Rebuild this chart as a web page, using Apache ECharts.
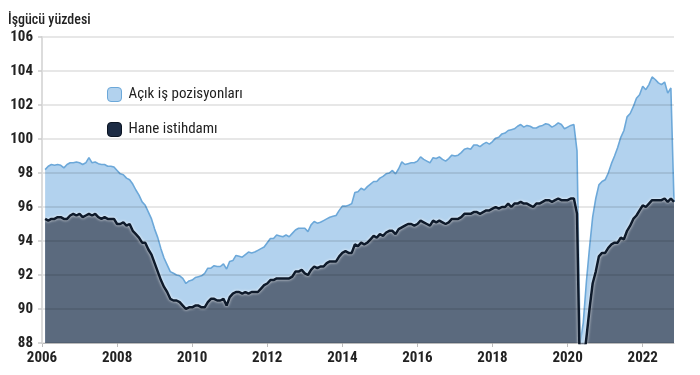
<!DOCTYPE html>
<html><head><meta charset="utf-8">
<script src="https://cdn.jsdelivr.net/npm/echarts@6/dist/echarts.min.js"></script>
<style>html,body{margin:0;padding:0;background:#fff}#c{width:700px;height:375px}</style>
</head><body><div id="c"></div>
<script>
const yAxisTitle = 'İşgücü yüzdesi';
const seriesNames = ['Açık iş pozisyonları', 'Hane istihdamı'];
const startYear = 2006;
const yearTicks = [2006, 2008, 2010, 2012, 2014, 2016, 2018, 2020, 2022];
const yMin = 88, yMax = 106, yStep = 2;

// Monthly, Jan 2006 .. Oct 2022 (plotted at month end)
const openingsPlusEmployment = [
  98.2, 98.4, 98.5, 98.45, 98.5, 98.45, 98.3, 98.5, 98.6, 98.6, 98.65, 98.6,
  98.5, 98.6, 98.9, 98.6, 98.65, 98.55, 98.5, 98.5, 98.4, 98.4, 98.35, 98.15,
  97.95, 97.9, 97.7, 97.6, 97.35, 97.0, 96.7, 96.3, 96.1, 95.7, 95.3, 94.7,
  94.2, 93.55, 93.0, 92.6, 92.2, 92.1, 92.0, 91.95, 91.8, 91.5, 91.65, 91.7,
  91.85, 91.9, 91.95, 92.1, 92.4, 92.4, 92.55, 92.5, 92.5, 92.65, 92.35, 92.8,
  92.85, 93.15, 93.1, 93.05, 93.2, 93.35, 93.3, 93.35, 93.45, 93.55, 93.65, 93.9,
  94.15, 94.15, 94.35, 94.3, 94.25, 94.35, 94.25, 94.45, 94.65, 94.75, 94.75, 94.75,
  94.55, 94.95, 95.15, 95.05, 95.1, 95.2, 95.3, 95.4, 95.45, 95.5, 95.8, 96.05,
  96.05, 96.1, 96.2, 96.85, 96.9, 97.1, 97.0, 97.2, 97.35, 97.5, 97.5, 97.7,
  97.8, 97.95, 98.0, 98.15, 97.95, 98.25, 98.65, 98.5, 98.55, 98.6, 98.6, 98.7,
  98.95, 98.8, 98.7, 98.6, 98.9, 98.85, 98.95, 98.8, 98.7, 98.85, 99.05, 99.0,
  99.05, 99.2, 99.4, 99.45, 99.4, 99.65, 99.65, 99.55, 99.7, 99.8, 99.7, 99.85,
  100.05, 100.1, 100.3, 100.35, 100.5, 100.55, 100.6, 100.75, 100.85, 100.7, 100.8, 100.75,
  100.65, 100.65, 100.75, 100.8, 100.9, 100.85, 100.7, 100.8, 100.95, 100.85, 100.6, 100.7,
  100.8, 100.85, 99.3, 88.0, 89.2, 91.6, 93.6, 95.4, 96.5, 97.3, 97.5, 97.6,
  98.0, 98.55, 99.0, 99.5, 100.1, 100.5, 101.3, 101.5, 101.9, 102.4, 102.6, 103.1,
  102.9, 103.2, 103.65, 103.5, 103.3, 103.2, 103.35, 102.7, 103.0, 96.3
];
const householdEmployment = [
  95.3, 95.2, 95.3, 95.3, 95.4, 95.4, 95.3, 95.3, 95.5, 95.6, 95.5, 95.6,
  95.4, 95.5, 95.6, 95.5, 95.6, 95.4, 95.3, 95.4, 95.3, 95.3, 95.3, 95.0,
  95.0, 95.1, 94.9, 95.0, 94.6, 94.4, 94.2, 93.9, 93.9, 93.5, 93.2, 92.7,
  92.2, 91.7, 91.3, 91.0, 90.6, 90.5, 90.5, 90.4, 90.2, 90.0, 90.1, 90.1,
  90.2, 90.2, 90.1, 90.1, 90.4, 90.6, 90.6, 90.5, 90.5, 90.6, 90.2, 90.7,
  90.9, 91.0, 91.0, 90.9, 91.0, 90.9, 91.0, 91.0, 91.0, 91.2, 91.4, 91.5,
  91.7, 91.7, 91.8, 91.8, 91.8, 91.8, 91.8, 91.9, 92.2, 92.2, 92.3, 92.1,
  92.0, 92.3, 92.5, 92.4, 92.5, 92.5, 92.7, 92.8, 92.8, 92.8, 93.1, 93.3,
  93.4, 93.3, 93.3, 93.8, 93.7, 93.9, 93.8, 93.9, 94.1, 94.3, 94.2, 94.4,
  94.3, 94.5, 94.6, 94.6, 94.4, 94.7, 94.8, 94.9, 95.0, 95.0, 94.9, 95.0,
  95.2, 95.1, 95.0, 94.9, 95.2, 95.1, 95.2, 95.1, 95.0, 95.1, 95.3, 95.3,
  95.3, 95.4, 95.6, 95.6, 95.6, 95.7, 95.7, 95.6, 95.7, 95.8, 95.8, 95.9,
  96.0, 95.9, 96.0, 96.0, 96.2, 96.0, 96.2, 96.2, 96.3, 96.2, 96.2, 96.1,
  96.0, 96.2, 96.2, 96.3, 96.4, 96.4, 96.3, 96.4, 96.5, 96.4, 96.4, 96.4,
  96.5, 96.5, 95.6, 85.3, 86.8, 88.3, 90.0, 91.5, 92.2, 93.1, 93.3, 93.3,
  93.6, 93.8, 93.9, 93.9, 94.2, 94.1, 94.6, 94.9, 95.3, 95.5, 95.8, 96.1,
  96.0, 96.2, 96.4, 96.4, 96.4, 96.4, 96.5, 96.3, 96.5, 96.3
];

// month-end positions in decimal years
const monthPos = householdEmployment.map((_, i) => startYear + (i + 1) / 12);

const FONT = '"Liberation Sans Narrow", "Roboto Condensed", Roboto, sans-serif';
const lightFill = '#b2d2ee', lightLine = '#6ca8d9';
const darkFill = '#5b6a7e', darkLine = '#0e1a2b';

const chart = echarts.init(document.getElementById('c'), null, {renderer: 'canvas'});
chart.setOption({
  animation: false,
  backgroundColor: '#fff',
  title: {
    text: yAxisTitle, left: 3, top: 8,
    textStyle: {fontFamily: FONT, fontSize: 14, fontWeight: 500, color: '#222'}
  },
  legend: {
    orient: 'vertical', left: 102, top: 82, itemGap: 20,
    itemWidth: 14, itemHeight: 14, icon: 'roundRect',
    textStyle: {fontFamily: FONT, fontSize: 15, color: '#222', padding: [0, 0, 0, 2]},
    data: [
      {name: seriesNames[0], itemStyle: {color: lightFill, borderColor: lightLine, borderWidth: 1}},
      {name: seriesNames[1], itemStyle: {color: '#1c2b44', borderColor: '#0b1422', borderWidth: 1}}
    ]
  },
  grid: {left: 42, right: 26, top: 37, bottom: 32, containLabel: false},
  xAxis: {
    type: 'value', min: startYear, max: monthPos[monthPos.length - 1],
    axisLine: {show: true, lineStyle: {color: '#cfcfcf', width: 1}},
    axisTick: {show: true, length: 4, lineStyle: {color: '#bdbdbd'}, customValues: yearTicks},
    axisLabel: {
      customValues: yearTicks, margin: 8,
      fontFamily: FONT, fontSize: 15, fontWeight: 'bold', color: '#222',
      formatter: v => String(Math.round(v))
    },
    splitLine: {show: false}
  },
  yAxis: {
    type: 'value', min: yMin, max: yMax, interval: yStep, z: 5,
    axisLine: {show: true, lineStyle: {color: '#dcdcdc', width: 2}},
    axisTick: {show: true, length: 4, lineStyle: {color: '#cccccc', width: 1.5}},
    axisLabel: {margin: 9, fontFamily: FONT, fontSize: 15, fontWeight: 'bold', color: '#222'},
    splitLine: {show: true, lineStyle: {color: 'rgba(0,0,0,0.13)', width: 1.5}}
  },
  series: [
    {
      name: seriesNames[0], type: 'line', showSymbol: false, symbol: 'none',
      data: monthPos.map((x, i) => [x, openingsPlusEmployment[i]]),
      lineStyle: {color: lightLine, width: 1.6},
      itemStyle: {color: lightFill},
      areaStyle: {color: lightFill, opacity: 1, origin: 'start'},
      z: 2
    },
    {
      name: seriesNames[1], type: 'line', showSymbol: false, symbol: 'none',
      data: monthPos.map((x, i) => [x, householdEmployment[i]]),
      lineStyle: {color: darkLine, width: 2.5, shadowColor: 'rgba(255,255,255,0.9)', shadowBlur: 3},
      itemStyle: {color: '#1c2b44'},
      areaStyle: {color: darkFill, opacity: 1, origin: 'start'},
      z: 3
    }
  ]
});
</script>
</body></html>
